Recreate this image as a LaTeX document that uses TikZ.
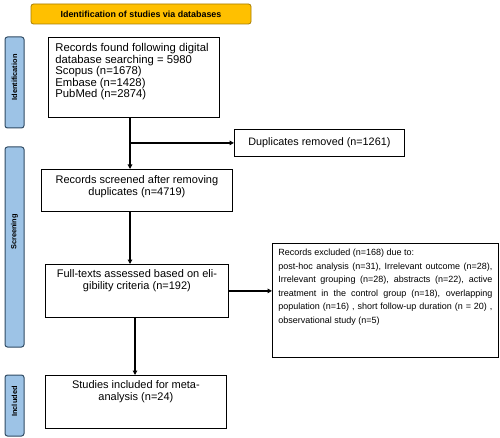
\documentclass[tikz,border=0pt]{standalone}
\usepackage{fontspec}
\setmainfont{Liberation Sans}
\usetikzlibrary{arrows.meta}
\definecolor{titlefill}{HTML}{FFC000}
\definecolor{titledraw}{HTML}{A67C00}
\definecolor{sidefill}{HTML}{9DC3E6}
\definecolor{sidedraw}{HTML}{2F4A63}
\tikzset{
  box/.style={draw=black, line width=0.8pt, inner ysep=0pt, inner xsep=0pt, anchor=north west, fill=white},
  side/.style={draw=sidedraw, fill=sidefill, line width=1pt, rounded corners=2.5pt, rotate=90,
    minimum height=19pt, inner sep=0pt, font=\fontsize{7.4}{8}\selectfont\bfseries},
  arr/.style={line width=1.3pt, -{Triangle[length=4.5pt,width=4.5pt]}}
}
\begin{document}
\begin{tikzpicture}[x=1pt,y=-1pt]
\useasboundingbox (0,0) rectangle (500,438);
% title
\node[draw=titledraw, fill=titlefill, line width=0.8pt, rounded corners=2.5pt, minimum width=220pt, minimum height=20pt, inner sep=0pt, font=\fontsize{8.9}{10}\selectfont\bfseries] (title) at (141,14) {Identification of studies via databases};
% side labels
\node[side, minimum width=91pt] (sid) at (14.5,82.5) {\hspace*{10pt}Identification};
\node[side, minimum width=200pt] (sscr) at (14.5,247) {\hspace*{30pt}Screening};
\node[side, minimum width=61pt] (sinc) at (14.5,405.5) {\hspace*{8pt}Included};
% boxes
\node[box, inner xsep=7pt] (b1) at (48,37) {\parbox[c][80pt][t]{157pt}{\vspace{6pt}\raggedright\fontsize{11.3}{11.5}\selectfont
Records found following digital\\database searching = 5980\\Scopus (n=1678)\\Embase (n=1428)\\PubMed (n=2874)}};
\node[box] (dup) at (234,129) {\parbox[c][27pt][c]{170pt}{\centering\fontsize{10.8}{12}\selectfont Duplicates removed (n=1261)}};
\node[box] (b2) at (41,169) {\parbox[c][42pt][t]{191pt}{\vspace{6pt}\centering\fontsize{11}{12.2}\selectfont Records screened after removing\\duplicates (n=4719)}};
\node[box] (b3) at (45,264) {\parbox[c][53pt][t]{183pt}{\vspace{5pt}\centering\fontsize{11}{12.3}\selectfont Full-texts assessed based on eli-\\gibility criteria (n=192)}};
\node[box] (b4) at (45,375) {\parbox[c][53pt][t]{181pt}{\vspace{5pt}\centering\fontsize{11}{12.3}\selectfont Studies included for meta-\\analysis (n=24)}};
\node[box, inner xsep=6pt] (ex) at (272,243) {\parbox[c][114pt][t]{214pt}{\vspace{6pt}\fontsize{9}{13.5}\selectfont\parindent=0pt
Records excluded (n=168) due to:\par
\makebox[\linewidth][s]{post-hoc analysis (n=31), Irrelevant outcome (n=28),}\par
\makebox[\linewidth][s]{Irrelevant grouping (n=28), abstracts (n=22), active}\par
\makebox[\linewidth][s]{treatment in the control group (n=18), overlapping}\par
\makebox[\linewidth][s]{population (n=16) , short follow-up duration (n = 20) ,}\par
observational study (n=5)}};
% connectors
\coordinate (cx) at (130,0);
\coordinate (cy) at (135,0);
\draw[arr] (b1.south -| cx) -- (b2.north -| cx);
\draw[arr] (cx |- dup.west) -- (dup.west);
\draw[arr] (b2.south -| cx) -- (b3.north -| cx);
\draw[arr] (b3.east) -- (b3.east -| ex.west);
\draw[arr] (b3.south -| cy) -- (b4.north -| cy);
\end{tikzpicture}
\end{document}
